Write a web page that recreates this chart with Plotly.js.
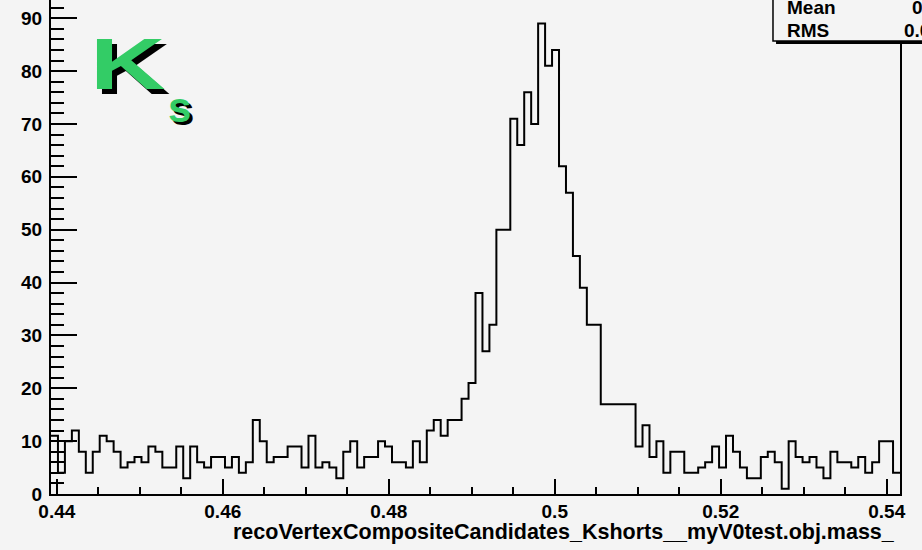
<!DOCTYPE html>
<html>
<head>
<meta charset="utf-8">
<script src="https://cdn.plot.ly/plotly-3.0.1.min.js"></script>
<style>
  html, body { margin: 0; padding: 0; background: #f4f4f4; }
  #chart { width: 922px; height: 550px; }
</style>
</head>
<body>
<div id="chart"></div>
<script>
// Histogram binning (x range of the frame)
const xLow = 0.4393;
const xHigh = 0.5416;
// Bin contents, left to right (122 bins)
const counts = [
  11, 4, 10, 12, 8, 4, 8, 11, 10, 8,
  5, 6, 7, 6, 9, 8, 5, 5, 9, 3,
  9, 6, 5, 7, 7, 5, 7, 4, 6, 14,
  10, 6, 7, 7, 9, 9, 5, 11, 5, 6,
  5, 3, 8, 10, 5, 7, 7, 10, 9, 6,
  6, 5, 10, 6, 12, 14, 11, 14, 14, 18,
  21, 38, 27, 32, 50, 50, 71, 66, 76, 70,
  89, 81, 84, 62, 57, 45, 39, 32, 32, 17,
  17, 17, 17, 17, 9, 13, 7, 10, 4, 8,
  8, 4, 4, 5, 6, 9, 5, 11, 8, 5,
  3, 3, 7, 8, 6, 1, 10, 7, 6, 7,
  5, 3, 8, 6, 6, 5, 7, 4, 6, 10,
  10, 4
];
const xTickVals = [0.44, 0.46, 0.48, 0.5, 0.52, 0.54];
const xTickText = ['0.44', '0.46', '0.48', '0.5', '0.52', '0.54'];
const yTickVals = [0, 10, 20, 30, 40, 50, 60, 70, 80, 90];
const yTickText = ['0', '10', '20', '30', '40', '50', '60', '70', '80', '90'];
const xTitle = 'recoVertexCompositeCandidates_Kshorts__myV0test.obj.mass_';
const statLabels = ['Mean', 'RMS'];
const statValues = ['0.4974', '0.01288'];
const yMax = 1.05 * Math.max(...counts);

const binW = (xHigh - xLow) / counts.length;
const xs = counts.map((_, i) => xLow + i * binW).concat([xHigh]);
const ys = counts.concat([counts[counts.length - 1]]);

const bg = '#f4f4f4';
const green = '#33cc66';
const fam = 'Liberation Sans, Arial, sans-serif';
const fontBold = { family: fam, size: 19, color: '#000', weight: 700 };

const trace = {
  type: 'scatter',
  mode: 'lines',
  x: xs,
  y: ys,
  line: { shape: 'hv', color: '#000', width: 2 },
  hoverinfo: 'skip',
  showlegend: false
};

const layout = {
  width: 922,
  height: 550,
  margin: { l: 51, r: 22, t: 0, b: 56, pad: 0 },
  paper_bgcolor: bg,
  plot_bgcolor: bg,
  showlegend: false,
  xaxis: {
    range: [xLow, xHigh],
    tickmode: 'array',
    tickvals: xTickVals,
    ticktext: xTickText,
    ticks: 'inside',
    ticklen: 15,
    tickwidth: 2,
    tickcolor: '#000',
    minor: { tickmode: 'linear', tick0: 0.44, dtick: 0.005, ticks: 'inside', ticklen: 7, tickwidth: 2, tickcolor: '#000', showgrid: false },
    showline: true,
    linecolor: '#000',
    linewidth: 2,
    mirror: true,
    showgrid: false,
    zeroline: false,
    tickfont: fontBold,
    ticklabelstandoff: -1
  },
  yaxis: {
    range: [0, yMax],
    tickmode: 'array',
    tickvals: yTickVals,
    ticktext: yTickText,
    ticks: 'inside',
    ticklen: 26,
    tickwidth: 2,
    tickcolor: '#000',
    minor: { tickmode: 'linear', tick0: 0, dtick: 2, ticks: 'inside', ticklen: 13, tickwidth: 2, tickcolor: '#000', showgrid: false },
    showline: true,
    linecolor: '#000',
    linewidth: 2,
    mirror: true,
    showgrid: false,
    zeroline: false,
    tickfont: fontBold,
    ticklabelstandoff: 3
  },
  shapes: [
    // stats box shadow
    { type: 'rect', xref: 'paper', yref: 'paper', x0: 0.854, x1: 1.3, y0: 0.911, y1: 1.2,
      fillcolor: '#000', line: { width: 0 }, layer: 'above' },
    // stats box
    { type: 'rect', xref: 'paper', yref: 'paper', x0: 0.8504, x1: 1.3, y0: 0.917, y1: 1.2,
      fillcolor: bg, line: { color: '#000', width: 1.5 }, layer: 'above' }
  ],
  annotations: [
    // Ks logo: shadow then green
    { xref: 'paper', yref: 'paper', x: 0.043, y: 0.955, xanchor: 'left', yanchor: 'top', xshift: 5, yshift: -5,
      text: 'K', showarrow: false, font: { family: fam, size: 72, color: '#000', weight: 700 } },
    { xref: 'paper', yref: 'paper', x: 0.043, y: 0.955, xanchor: 'left', yanchor: 'top',
      text: 'K', showarrow: false, font: { family: fam, size: 72, color: green, weight: 700 } },
    { xref: 'paper', yref: 'paper', x: 0.136, y: 0.833, xanchor: 'left', yanchor: 'top', xshift: 3, yshift: -3,
      text: 's', showarrow: false, font: { family: fam, size: 42, color: '#000', weight: 700 } },
    { xref: 'paper', yref: 'paper', x: 0.136, y: 0.833, xanchor: 'left', yanchor: 'top',
      text: 's', showarrow: false, font: { family: fam, size: 42, color: green, weight: 700 } },
    // x title
    { xref: 'paper', yref: 'paper', x: 1, y: 0, xanchor: 'right', yanchor: 'top', xshift: -3, yshift: -24,
      text: xTitle, showarrow: false, font: { family: fam, size: 21.5, color: '#000', weight: 700 } },
    // stats text
    { xref: 'paper', yref: 'paper', x: 0.864, y: 1, xanchor: 'left', yanchor: 'middle', yshift: -7,
      text: statLabels[0], showarrow: false, font: fontBold },
    { xref: 'paper', yref: 'paper', x: 0.864, y: 1, xanchor: 'left', yanchor: 'middle', yshift: -30,
      text: statLabels[1], showarrow: false, font: fontBold },
    { xref: 'paper', yref: 'paper', x: 1.012, y: 1, xanchor: 'left', yanchor: 'middle', yshift: -7,
      text: statValues[0], showarrow: false, font: fontBold },
    { xref: 'paper', yref: 'paper', x: 1.002, y: 1, xanchor: 'left', yanchor: 'middle', yshift: -30,
      text: statValues[1], showarrow: false, font: fontBold }
  ]
};

Plotly.newPlot('chart', [trace], layout, { displayModeBar: false, staticPlot: true }).then(function () {
  // widen the big "K" of the logo, as in the original artwork
  const sx = 1.45;
  document.querySelectorAll('.annotation').forEach(function (g) {
    const idx = +g.getAttribute('data-index');
    if (idx === 0 || idx === 1) {
      const t = g.querySelector('text.annotation-text');
      if (t) {
        const bb = t.getBBox();
        t.setAttribute('transform', 'translate(' + bb.x + ',0) scale(' + sx + ',1) translate(' + (-bb.x) + ',0)');
      }
    }
  });
});
</script>
</body>
</html>
